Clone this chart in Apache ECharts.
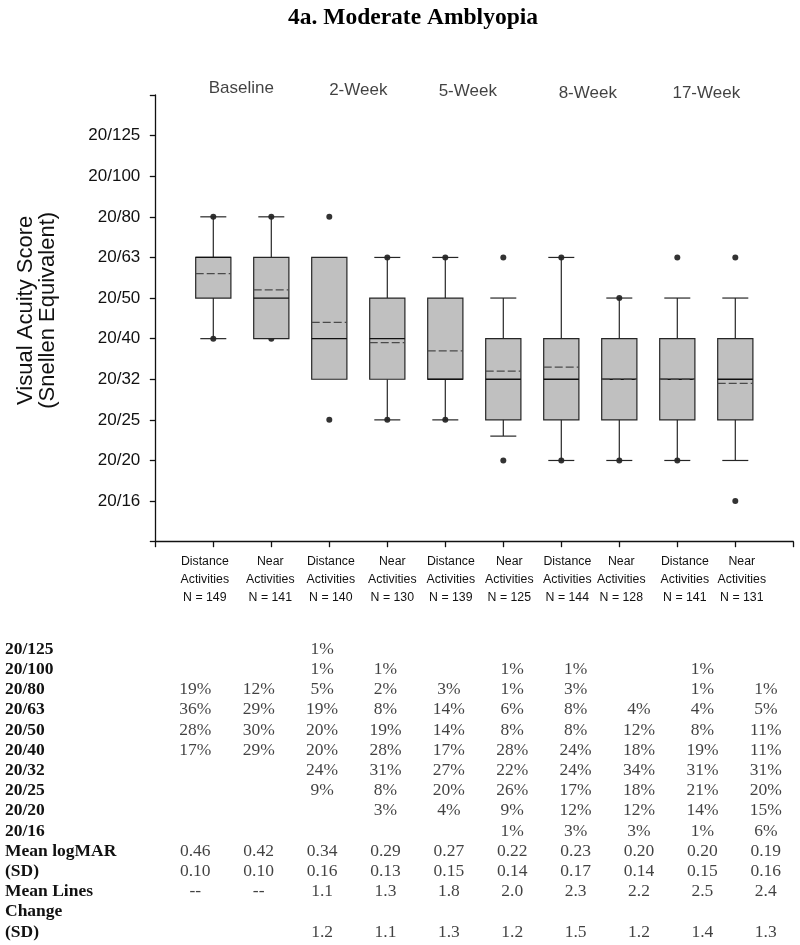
<!DOCTYPE html>
<html>
<head>
<meta charset="utf-8">
<title>4a. Moderate Amblyopia</title>
<script src="https://cdn.jsdelivr.net/npm/echarts@6/dist/echarts.min.js"></script>
<style>
  html, body { margin: 0; padding: 0; background: #fff; }
  #chart { width: 800px; height: 945px; }
</style>
</head>
<body>
<div id="chart"></div>
<script>
// --- data ---
// visits (labels above each pair of boxes)
const visits = ['Baseline', '2-Week', '5-Week', '8-Week', '17-Week'];
// one box per category, left to right
const categories = [
    'Distance Activities', 'Near Activities', 'Distance Activities', 'Near Activities',
    'Distance Activities', 'Near Activities', 'Distance Activities', 'Near Activities',
    'Distance Activities', 'Near Activities'
];
const nCounts = [149, 141, 140, 130, 139, 125, 144, 128, 141, 131];

// y ticks: Snellen equivalents for logMAR -0.1 .. 0.8
const snellenTicks = ['20/16', '20/20', '20/25', '20/32', '20/40', '20/50', '20/63', '20/80', '20/100', '20/125'];

// box stats in logMAR
const whiskerLow  = [0.3, 0.3, 0.2, 0.1, 0.1, 0.06, 0.0, 0.0, 0.0, 0.0];
const q1          = [0.4, 0.3, 0.2, 0.2, 0.2, 0.1, 0.1, 0.1, 0.1, 0.1];
const median      = [0.5, 0.4, 0.3, 0.3, 0.2, 0.2, 0.2, 0.2, 0.2, 0.2];
const q3          = [0.5, 0.5, 0.5, 0.4, 0.4, 0.3, 0.3, 0.3, 0.3, 0.3];
const whiskerHigh = [0.6, 0.6, 0.5, 0.5, 0.5, 0.4, 0.5, 0.4, 0.4, 0.4];
const meanLogMAR  = [0.46, 0.42, 0.34, 0.29, 0.27, 0.22, 0.23, 0.20, 0.20, 0.19];
// dots outside the whiskers (or on the caps)
const outliers = [[0.6, 0.3], [0.6, 0.3], [0.6, 0.1], [0.5, 0.1], [0.5, 0.1],
                  [0.5, 0.0], [0.5, 0.0], [0.4, 0.0], [0.5, 0.0], [0.5, -0.1]];

// table under the chart
const tableRowLabels = ['20/125', '20/100', '20/80', '20/63', '20/50', '20/40', '20/32', '20/25',
    '20/20', '20/16', 'Mean logMAR', '(SD)', 'Mean Lines', 'Change', '(SD)'];
const pct125 = ['', '', '1%', '', '', '', '', '', '', ''];
const pct100 = ['', '', '1%', '1%', '', '1%', '1%', '', '1%', ''];
const pct80  = ['19%', '12%', '5%', '2%', '3%', '1%', '3%', '', '1%', '1%'];
const pct63  = ['36%', '29%', '19%', '8%', '14%', '6%', '8%', '4%', '4%', '5%'];
const pct50  = ['28%', '30%', '20%', '19%', '14%', '8%', '8%', '12%', '8%', '11%'];
const pct40  = ['17%', '29%', '20%', '28%', '17%', '28%', '24%', '18%', '19%', '11%'];
const pct32  = ['', '', '24%', '31%', '27%', '22%', '24%', '34%', '31%', '31%'];
const pct25  = ['', '', '9%', '8%', '20%', '26%', '17%', '18%', '21%', '20%'];
const pct20  = ['', '', '', '3%', '4%', '9%', '12%', '12%', '14%', '15%'];
const pct16  = ['', '', '', '', '', '1%', '3%', '3%', '1%', '6%'];
const sdLogMAR  = ['0.10', '0.10', '0.16', '0.13', '0.15', '0.14', '0.17', '0.14', '0.15', '0.16'];
const meanLines = ['--', '--', '1.1', '1.3', '1.8', '2.0', '2.3', '2.2', '2.5', '2.4'];
const sdLines   = ['', '', '1.2', '1.1', '1.3', '1.2', '1.5', '1.2', '1.4', '1.3'];

// --- styles ---
const sans = "'Liberation Sans', Arial, sans-serif";
const serif = "'Liberation Serif', 'Times New Roman', serif";
const ink = '#111';
const boxLine = '#262626';

// small nudges so the labels sit where the original put them
const labelShift = [-8.5, -1, 1.5, 5, 5.5, 6, 6, 2, 7.5, 6.5];
const groupNudge = [[-1, -7], [0, -5], [-6.5, -4], [-2.5, -2], [0, -2]];

const rich = {};
labelShift.forEach((s, i) => {
    rich['r' + i] = {
        fontFamily: sans, fontSize: 12.3, lineHeight: 17.7, color: ink,
        padding: s >= 0 ? [0, 0, 0, 2 * s] : [0, -2 * s, 0, 0]
    };
});

const boxData = categories.map((_, i) =>
    [i + 1, whiskerLow[i], q1[i], median[i], q3[i], whiskerHigh[i], meanLogMAR[i]]);

const outlierData = [];
outliers.forEach((vals, i) => vals.forEach(v => outlierData.push([i + 1, v])));

const tableRows = [pct125, pct100, pct80, pct63, pct50, pct40, pct32, pct25, pct20, pct16,
    meanLogMAR.map(v => v.toFixed(2)), sdLogMAR, meanLines, [], sdLines];
const tableData = [];
tableRows.forEach((row, r) => {
    row.forEach((txt, c) => {
        if (txt) tableData.push({ value: [c + 1, r], name: txt });
    });
});

function renderBox(params, api) {
    const x = api.value(0);
    const at = (dim) => api.coord([x, api.value(dim)]);
    const cx = at(1)[0];
    const yLo = at(1)[1], yQ1 = at(2)[1], yMed = at(3)[1], yQ3 = at(4)[1], yHi = at(5)[1], yMean = at(6)[1];
    const halfBox = 17.6, halfCap = 13;
    const ln = { stroke: boxLine, lineWidth: 1.2 };
    const children = [];

    if (yHi < yQ3 - 0.5) {
        children.push({ type: 'line', shape: { x1: cx, y1: yQ3, x2: cx, y2: yHi }, style: ln });
        children.push({ type: 'line', shape: { x1: cx - halfCap, y1: yHi, x2: cx + halfCap, y2: yHi }, style: ln });
    }
    if (yLo > yQ1 + 0.5) {
        children.push({ type: 'line', shape: { x1: cx, y1: yQ1, x2: cx, y2: yLo }, style: ln });
        children.push({ type: 'line', shape: { x1: cx - halfCap, y1: yLo, x2: cx + halfCap, y2: yLo }, style: ln });
    }
    children.push({
        type: 'rect',
        shape: { x: cx - halfBox, y: yQ3, width: halfBox * 2, height: yQ1 - yQ3 },
        style: { fill: '#c0c0c0', stroke: boxLine, lineWidth: 1.2 }
    });
    children.push({ type: 'line', shape: { x1: cx - halfBox, y1: yMed, x2: cx + halfBox, y2: yMed },
        style: { stroke: '#111', lineWidth: 1.3 } });
    children.push({ type: 'line', shape: { x1: cx - halfBox, y1: yMean, x2: cx + halfBox, y2: yMean },
        style: { stroke: '#4a4a4a', lineWidth: 1.3, lineDash: [8, 3] } });

    return { type: 'group', children: children };
}

const chart = echarts.init(document.getElementById('chart'));

chart.setOption({
    animation: false,
    backgroundColor: '#fff',
    title: {
        text: '4a. Moderate Amblyopia',
        left: 288, top: 6, padding: 0,
        textStyle: { fontFamily: serif, fontWeight: 'bold', fontSize: 23.5, color: '#000' }
    },
    grid: [
        { left: 155.3, right: 6.7, top: 95, bottom: 403.3, containLabel: false, outerBoundsMode: 'none' },
        { left: 163.6, right: 2.5, top: 639.2, height: 303, containLabel: false, outerBoundsMode: 'none' }
    ],
    xAxis: [
        {
            type: 'value', gridIndex: 0, min: 0, max: 11, interval: 1,
            axisLine: { show: true, onZero: false, lineStyle: { color: ink, width: 1.3 } },
            axisTick: { show: true, length: 5.5, lineStyle: { color: ink, width: 1.3 } },
            splitLine: { show: false },
            axisLabel: {
                margin: 11.5, rich: rich,
                formatter: (v) => {
                    const i = Math.round(v) - 1;
                    if (i < 0 || i >= categories.length) return '';
                    const t = 'r' + i;
                    const words = categories[i].split(' ');
                    return `{${t}|${words[0]}}\n{${t}|${words[1]}}\n{${t}|N = ${nCounts[i]}}`;
                }
            }
        },
        { type: 'value', gridIndex: 1, min: 0.5, max: 10.5, show: false }
    ],
    yAxis: [
        {
            type: 'value', gridIndex: 0, min: -0.2, max: 0.9, interval: 0.1,
            axisLine: { show: true, onZero: false, lineStyle: { color: ink, width: 1.3 } },
            axisTick: { show: true, length: 5.5, lineStyle: { color: ink, width: 1.3 } },
            splitLine: { show: false },
            axisLabel: {
                margin: 15, fontFamily: sans, fontSize: 17, color: ink,
                formatter: (v) => snellenTicks[Math.round(v * 10) + 1] || ''
            },
            name: 'Visual Acuity Score\n(Snellen Equivalent)',
            nameLocation: 'middle', nameRotate: 90, nameGap: 97,
            nameTextStyle: { fontFamily: sans, fontSize: 22, lineHeight: 21.5, color: ink, padding: [0, 0, 0, 16] }
        },
        {
            type: 'category', gridIndex: 1, inverse: true,
            data: tableRowLabels.map((_, i) => 'row' + i),
            axisLine: { show: false }, axisTick: { show: false }, splitLine: { show: false },
            axisLabel: {
                interval: 0, align: 'left', margin: 158.6,
                fontFamily: serif, fontWeight: 'bold', fontSize: 17.5, color: ink,
                formatter: (v, i) => tableRowLabels[i]
            }
        }
    ],
    series: [
        {
            name: 'outliers', type: 'scatter', xAxisIndex: 0, yAxisIndex: 0, z: 2,
            symbol: 'circle', symbolSize: 6, itemStyle: { color: '#000' },
            data: outlierData, silent: true
        },
        {
            name: 'boxes', type: 'custom', xAxisIndex: 0, yAxisIndex: 0, z: 3,
            renderItem: renderBox,
            encode: { x: 0, y: [1, 2, 3, 4, 5, 6] },
            data: boxData, silent: true
        },
        {
            name: 'visits', type: 'scatter', xAxisIndex: 0, yAxisIndex: 0, clip: false,
            symbolSize: 1, itemStyle: { color: 'rgba(0,0,0,0)' }, silent: true,
            label: { show: true, position: 'inside', formatter: '{b}', fontFamily: sans, fontSize: 17, color: ink },
            data: visits.map((v, i) => ({ value: [2 * i + 1.5, 0.9], name: v, label: { offset: groupNudge[i] } }))
        },
        {
            name: 'table', type: 'scatter', xAxisIndex: 1, yAxisIndex: 1, clip: false,
            symbolSize: 1, itemStyle: { color: 'rgba(0,0,0,0)' }, silent: true,
            label: { show: true, position: 'inside', formatter: '{b}', fontFamily: serif, fontSize: 17.5, color: ink },
            data: tableData
        }
    ]
});
</script>
</body>
</html>
